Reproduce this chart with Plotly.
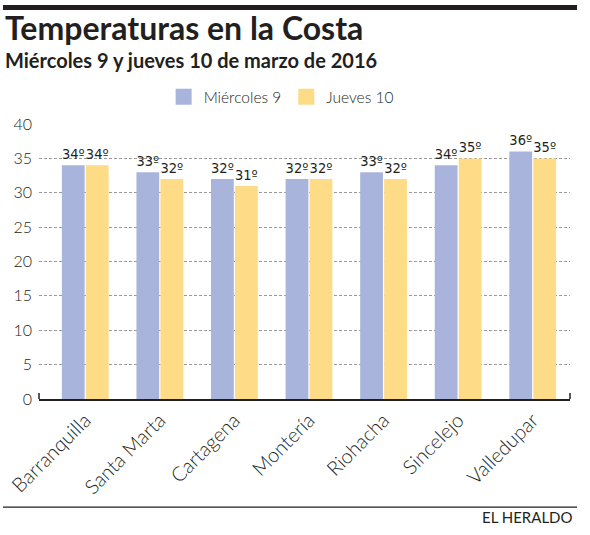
import plotly.graph_objects as go

# data
cities = ["Barranquilla", "Santa Marta", "Cartagena", "Montería",
          "Riohacha", "Sincelejo", "Valledupar"]
miercoles = [34, 33, 32, 32, 33, 34, 36]
jueves = [34, 32, 31, 32, 32, 35, 35]
y_ticks = [0, 5, 10, 15, 20, 25, 30, 35, 40]

lavender = '#a9b4dc'
yellow = '#fddb87'
dark = '#231f20'
label_font = dict(family="DejaVu Sans Condensed, Liberation Sans Narrow, Arial Narrow",
                  size=19, color=dark, weight=400)

fig = go.Figure()

fig.add_trace(go.Bar(
    x=cities, y=miercoles, name="Miércoles 9", showlegend=False,
    marker=dict(color=lavender, line=dict(width=0)),
    text=[f"{v}º" for v in miercoles], textposition='outside',
    textfont=label_font, cliponaxis=False,
))
fig.add_trace(go.Bar(
    x=cities, y=jueves, name="Jueves 10", showlegend=False,
    marker=dict(color=yellow, line=dict(width=0)),
    text=[f"{v}º" for v in jueves], textposition='outside',
    textfont=label_font, cliponaxis=False,
))

# bigger square legend keys
for name, col in [("Miércoles 9", lavender), ("Jueves 10", yellow)]:
    fig.add_trace(go.Scatter(
        x=[None], y=[None], mode='markers', name=name,
        marker=dict(symbol='square', size=17, color=col),
    ))

fig.update_layout(
    width=590, height=535,
    margin=dict(l=39, r=20, t=124, b=136),
    plot_bgcolor='white', paper_bgcolor='white',
    barmode='group', bargap=0.357, bargroupgap=0.05,
    font=dict(family="Lato, Open Sans, sans-serif", color=dark),
    showlegend=True,
    legend=dict(
        orientation='h', x=0.456, y=1.098, xanchor='center', yanchor='middle',
        font=dict(size=15.5, color=dark, weight=300), itemsizing='trace',
        bgcolor='rgba(0,0,0,0)',
    ),
)

fig.update_xaxes(
    range=[-0.62, 6.5], tickangle=-45, automargin=False,
    tickfont=dict(size=20, color=dark, weight=300),
    showline=True, linecolor=dark, linewidth=1.5,
    showgrid=False, ticks='',
)
fig.update_yaxes(
    range=[0, 40], tickvals=y_ticks, automargin=False,
    tickfont=dict(size=16, color=dark, weight=300),
    ticklabelstandoff=6,
    showgrid=True, gridcolor='#9a9a9a', gridwidth=1, griddash='3px,2px',
    zeroline=False, showline=False, ticks='',
)

# header / footer rules and axis end ticks
fig.add_shape(type='line', xref='paper', yref='paper', x0=-0.0678, x1=1.0132,
              y0=1.4236, y1=1.4236, line=dict(color=dark, width=5))
fig.add_shape(type='line', xref='paper', yref='paper', x0=-0.0678, x1=1.0132,
              y0=-0.393, y1=-0.393, line=dict(color=dark, width=1.2))
for xp in [0, 1]:
    fig.add_shape(type='line', xref='paper', yref='paper', x0=xp, x1=xp,
                  y0=0, y1=0.022, line=dict(color=dark, width=1.5))

fig.add_annotation(text="<b>Temperaturas en la Costa</b>", xref='paper', yref='paper',
                   x=-0.067, y=1.3527, xanchor='left', yanchor='middle', showarrow=False,
                   font=dict(family="Lato", size=32, color=dark, weight=900))
fig.add_annotation(text="<b>Miércoles 9 y jueves 10 de marzo de 2016</b>", xref='paper', yref='paper',
                   x=-0.067, y=1.2327, xanchor='left', yanchor='middle', showarrow=False,
                   font=dict(family="Lato", size=20, color=dark))
fig.add_annotation(text="EL HERALDO", xref='paper', yref='paper',
                   x=1.0094, y=-0.429, xanchor='right', yanchor='middle', showarrow=False,
                   font=dict(family="Lato", size=15, color=dark))

fig.write_html("out.html", config={'displayModeBar': False},
               post_script="document.body.style.margin='0';")
